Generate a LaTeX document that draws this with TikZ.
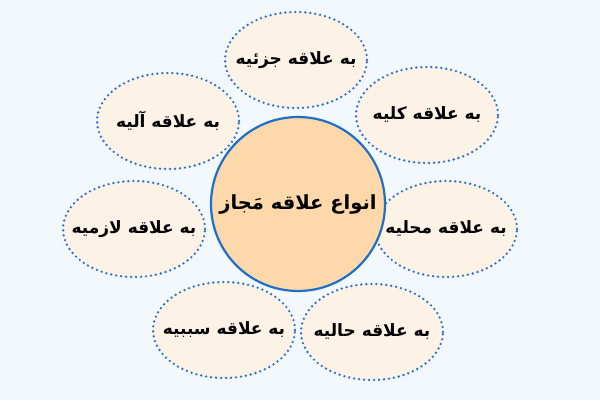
\documentclass[tikz,border=0pt]{standalone}
\usepackage{fontspec}
\usetikzlibrary{shapes.geometric}
\TeXXeTstate=1
\newfontfamily\arabicfont[Script=Arabic]{DejaVu Sans}
\newcommand{\fa}[1]{{\arabicfont\bfseries\beginR #1\endR}}
\definecolor{bgblue}{HTML}{F3F8FE}
\definecolor{rimblue}{HTML}{1E6FC8}
\definecolor{dotblue}{HTML}{2A6FD0}
\definecolor{coreorange}{HTML}{FDD8AA}
\definecolor{leafcream}{HTML}{FDF2E6}

\begin{document}
\begin{tikzpicture}[x=1pt,y=-1pt,
    leaf/.style={ellipse, draw=dotblue, fill=leafcream, line width=2.6pt,
      dash pattern=on 0pt off 5pt, line cap=round,
      minimum width=142pt, minimum height=96pt, inner xsep=-16pt, inner ysep=0pt,
      font=\fontsize{17}{20}\selectfont},
    core/.style={circle, draw=rimblue, fill=coreorange, line width=2.2pt,
      minimum size=174pt, inner sep=0pt, font=\fontsize{19.5}{23}\selectfont}]
            \fill[bgblue] (0,0) rectangle (600,400);
            \useasboundingbox (0,0) rectangle (600,400);

            \node[leaf] (juz) at (296,60) {\fa{به علاقه جزئیه}};
            \node[leaf] (kull) at (427,115) {\fa{به علاقه کلیه}};
            \node[leaf] (mahal) at (446,229) {\fa{به علاقه محلیه}};
            \node[leaf] (hal) at (372,332) {\fa{به علاقه حالیه}};
            \node[leaf] (sabab) at (224,330) {\fa{به علاقه سببیه}};
            \node[leaf] (lazim) at (134,229) {\fa{به علاقه لازمیه}};
            \node[leaf] (alat) at (168,121) {\fa{به علاقه آلیه}};

            \node[core] (anwa) at (298,204) {\fa{انواع علاقه مَجاز}};
        \end{tikzpicture}
\end{document}
